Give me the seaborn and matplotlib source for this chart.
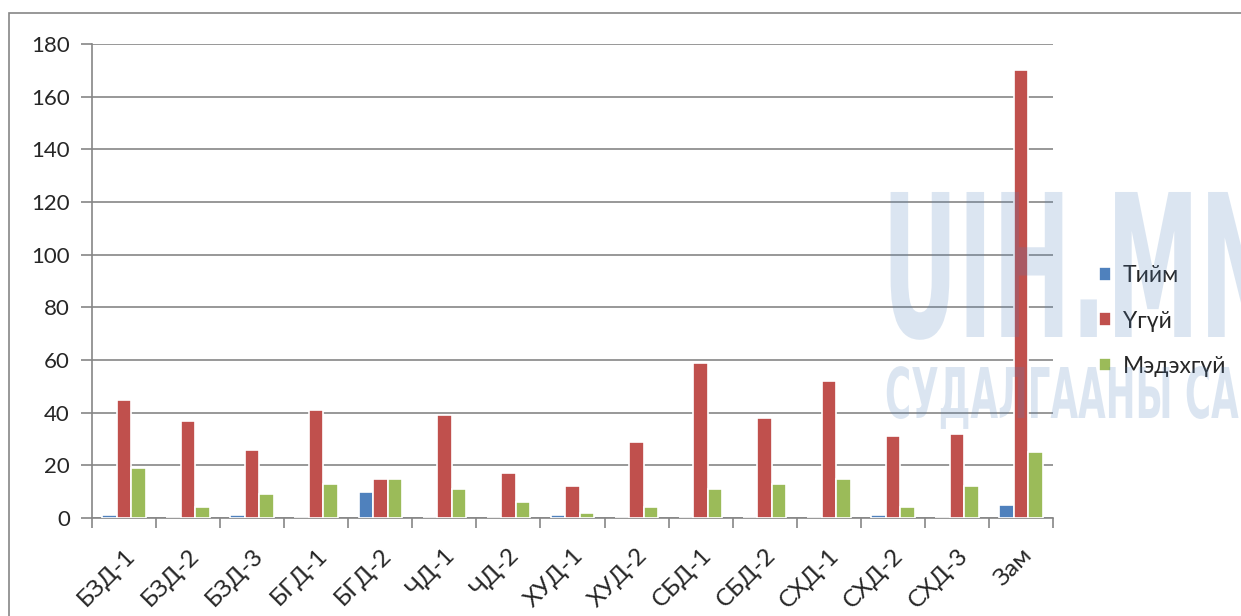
import numpy as np
import pandas as pd
import matplotlib.pyplot as plt
import seaborn as sns
from matplotlib.patches import Rectangle, PathPatch
from matplotlib.textpath import TextPath
from matplotlib.font_manager import FontProperties
from matplotlib.transforms import Affine2D, IdentityTransform

# Ангилал ба утгууд
categories = ["БЗД-1", "БЗД-2", "БЗД-3", "БГД-1", "БГД-2", "ЧД-1", "ЧД-2", "ХУД-1",
              "ХУД-2", "СБД-1", "СБД-2", "СХД-1", "СХД-2", "СХД-3", "Зам"]
tiim = [1, 0, 1, 0, 10, 0, 0, 1, 0, 0, 0, 0, 1, 0, 5]
ugui = [45, 37, 26, 41, 15, 39, 17, 12, 29, 59, 38, 52, 31, 32, 170]
medekhgui = [19, 4, 9, 13, 15, 11, 6, 2, 4, 11, 13, 15, 4, 12, 25]
series_names = ["Тийм", "Үгүй", "Мэдэхгүй"]
colors = ["#4F81BD", "#C0504D", "#9BBB59"]
y_ticks = list(range(0, 181, 20))

df = pd.DataFrame({
    "category": categories * 3,
    "value": tiim + ugui + medekhgui,
    "series": [series_names[0]] * 15 + [series_names[1]] * 15 + [series_names[2]] * 15,
})

sns.set_style("white")
plt.rcParams["font.family"] = ["Lato", "DejaVu Sans"]

W, H = 1241, 616
fig = plt.figure(figsize=(W / 100, H / 100), dpi=100)
ax = fig.add_axes([92 / W, (H - 518) / H, (1053 - 92) / W, (518 - 44) / H])

sns.barplot(data=df, x="category", y="value", hue="series", palette=colors,
            order=categories, hue_order=series_names, width=0.68, saturation=1,
            edgecolor="white", linewidth=1.2, ax=ax, zorder=3)

ax.set_ylim(0, 180)
ax.set_xlim(-0.5, len(categories) - 0.5)
ax.set_yticks(y_ticks)
ax.set_xlabel("")
ax.set_ylabel("")
ax.grid(axis="y", color="#868686", linewidth=1.2, zorder=0)
ax.set_axisbelow(True)

for side in ["top", "right"]:
    ax.spines[side].set_visible(False)
for side in ["left", "bottom"]:
    ax.spines[side].set_color("#868686")
    ax.spines[side].set_linewidth(1.2)

ax.tick_params(axis="y", labelsize=16, length=8, width=1.2, color="#868686",
               left=True, direction="out", pad=8)
ax.set_xticks(range(len(categories)))
ax.set_xticklabels(categories, rotation=45, ha="right", rotation_mode="anchor", fontsize=17.5)
ax.tick_params(axis="x", which="major", length=0, pad=19)
ax.set_xticks(np.arange(-0.5, len(categories), 1), minor=True)
ax.tick_params(axis="x", which="minor", length=7, width=1.2, color="#868686",
               bottom=True, direction="out")

handles, labels = ax.get_legend_handles_labels()
ax.legend(handles, labels, loc="center left", bbox_to_anchor=(1078 / W, 1 - 321 / H),
          bbox_transform=fig.transFigure, frameon=False, fontsize=16.5,
          handlelength=0.55, handleheight=0.55, handletextpad=0.5, labelspacing=1.05)

# Водны тэмдэг (хагас тунгалаг)
wm_font = FontProperties(family="DejaVu Sans", weight="bold")
for txt, x0, base, cap, sx in [("UIH.MN", 882, 337, 145, 0.47),
                               ("СУДАЛГААНЫ СА", 885, 418, 51, 0.51)]:
    tp = TextPath((0, 0), txt, size=100, prop=wm_font)
    s = cap / 72.9
    tr = Affine2D().scale(s * sx, s).translate(x0, H - base)
    fig.patches.append(PathPatch(tr.transform_path(tp), transform=IdentityTransform(),
                                 facecolor="#4F81BD", edgecolor="none", alpha=0.2,
                                 zorder=5))

fig.patches.append(Rectangle((9 / W, -0.1), 1.2, 1.1 - 13 / H, transform=fig.transFigure,
                             fill=False, edgecolor="#868686", linewidth=1.2))

fig.savefig("out.png", dpi=100)
